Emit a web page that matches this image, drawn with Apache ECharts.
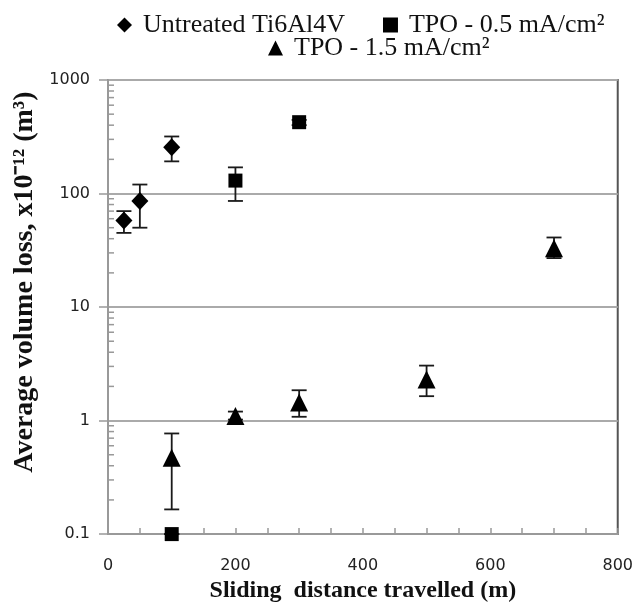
<!DOCTYPE html>
<html><head><meta charset="utf-8">
<script src="https://cdn.jsdelivr.net/npm/echarts@6/dist/echarts.min.js"></script>
<style>html,body{margin:0;padding:0;background:#fff}#c{width:636px;height:608px}</style>
</head><body><div id="c"></div>
<script>
// ---- data ----
const xTicks = [0, 200, 400, 600, 800];
const yTicks = [0.1, 1, 10, 100, 1000];

const untreatedX = [25, 50, 100];
const untreatedY = [58, 86, 255];
const untreatedLo = [45, 50, 192];
const untreatedHi = [70, 120, 318];

const tpo05X = [100, 200, 300];
const tpo05Y = [0.1, 130, 425];
const tpo05Lo = [0.1, 86, 400];
const tpo05Hi = [0.1, 170, 445];

const tpo15X = [100, 200, 300, 500, 700];
const tpo15Y = [0.47, 1.1, 1.44, 2.3, 33];
const tpo15Lo = [0.165, 1.02, 1.08, 1.64, 27];
const tpo15Hi = [0.77, 1.2, 1.85, 3.05, 41];

const names = ['Untreated Ti6Al4V', 'TPO - 0.5 mA/cm\u00b2', 'TPO - 1.5 mA/cm\u00b2'];

function pts(xs, ys) { return xs.map((x, i) => [x, ys[i]]); }
function errData(xs, lo, hi) { return xs.map((x, i) => [x, lo[i], hi[i]]); }

function errRender(params, api) {
  const x = api.value(0);
  const p1 = api.coord([x, api.value(1)]);
  const p2 = api.coord([x, api.value(2)]);
  const hw = 7.5;
  const st = { stroke: '#1a1a1a', lineWidth: 1.8 };
  return { type: 'group', children: [
    { type: 'line', shape: { x1: p1[0], y1: p1[1], x2: p2[0], y2: p2[1] }, style: st },
    { type: 'line', shape: { x1: p1[0] - hw, y1: p1[1], x2: p1[0] + hw, y2: p1[1] }, style: st },
    { type: 'line', shape: { x1: p2[0] - hw, y1: p2[1], x2: p2[0] + hw, y2: p2[1] }, style: st }
  ]};
}

// minor log ticks on y axis
const minorVals = [];
for (let d = 0; d < yTicks.length - 1; d++) for (let k = 2; k <= 9; k++) minorVals.push([0, +(yTicks[d] * k).toPrecision(3)]);

const chart = echarts.init(document.getElementById('c'), null, { renderer: 'canvas' });
const sansFont = 'DejaVu Sans';
const serifFont = 'Liberation Serif';
const legendText = { fontFamily: serifFont, fontSize: 26, color: '#111', padding: [0, 0, 0, 6] };

chart.setOption({
  animation: false,
  backgroundColor: '#fff',
  grid: { left: 108, right: 17, top: 80, bottom: 68, show: true, borderColor: '#555', borderWidth: 2 },
  legend: [
    { data: [names[0], names[1]], left: 117, top: 12, padding: 0, itemGap: 38, itemWidth: 15, itemHeight: 15,
      textStyle: legendText },
    { data: [names[2]], left: 268, top: 35, padding: 0, itemWidth: 15, itemHeight: 15,
      textStyle: legendText }
  ],
  xAxis: {
    type: 'value', min: xTicks[0], max: xTicks[xTicks.length - 1], interval: 200,
    name: 'Sliding  distance travelled (m)', nameLocation: 'middle', nameGap: 44,
    nameTextStyle: { fontFamily: serifFont, fontWeight: 'bold', fontSize: 24, color: '#111' },
    axisLine: { lineStyle: { color: '#999', width: 2 } },
    axisTick: { show: true, inside: true, length: 6, lineStyle: { color: '#999', width: 1.5 } },
    minorTick: { show: true, splitNumber: 4, length: 6, lineStyle: { color: '#999', width: 1.5 } },
    axisLabel: { fontFamily: sansFont, fontSize: 16, color: '#222', margin: 24 },
    splitLine: { show: false }
  },
  yAxis: {
    type: 'log', logBase: 10, min: yTicks[0], max: yTicks[yTicks.length - 1],
    name: 'Average volume loss, x10\u207b\u00b9\u00b2 (m\u00b3)', nameLocation: 'middle', nameGap: 68,
    nameTextStyle: { fontFamily: serifFont, fontWeight: 'bold', fontSize: 28, color: '#111', padding: [0, 0, 0, 50] },
    axisLine: { lineStyle: { color: '#999', width: 2 } },
    axisTick: { show: true, length: 9, lineStyle: { color: '#999', width: 1.5 } },
    axisLabel: { fontFamily: sansFont, fontSize: 16, color: '#222', margin: 18,
      formatter: v => String(+v.toPrecision(3)) },
    splitLine: { show: true, lineStyle: { color: '#aaa', width: 2 } }
  },
  series: [
    { type: 'custom', silent: true, z: 1, data: minorVals,
      renderItem: (params, api) => {
        const p = api.coord([0, api.value(1)]);
        return { type: 'line', shape: { x1: p[0], y1: p[1], x2: p[0] + 6, y2: p[1] }, style: { stroke: '#999', lineWidth: 1.5 } };
      } },
    { type: 'custom', silent: true, z: 2, data: errData(untreatedX, untreatedLo, untreatedHi), renderItem: errRender },
    { type: 'custom', silent: true, z: 2, data: errData(tpo05X, tpo05Lo, tpo05Hi), renderItem: errRender },
    { type: 'custom', silent: true, z: 2, data: errData(tpo15X, tpo15Lo, tpo15Hi), renderItem: errRender },
    { name: names[0], type: 'scatter', z: 3, symbol: 'diamond', symbolSize: [17, 18], itemStyle: { color: '#000', opacity: 1 }, data: pts(untreatedX, untreatedY) },
    { name: names[1], type: 'scatter', z: 3, symbol: 'rect', symbolSize: 14, itemStyle: { color: '#000', opacity: 1 }, data: pts(tpo05X, tpo05Y) },
    { name: names[2], type: 'scatter', z: 3, symbol: 'triangle', symbolSize: [18, 18], itemStyle: { color: '#000', opacity: 1 }, data: pts(tpo15X, tpo15Y) }
  ]
});
</script></body></html>
